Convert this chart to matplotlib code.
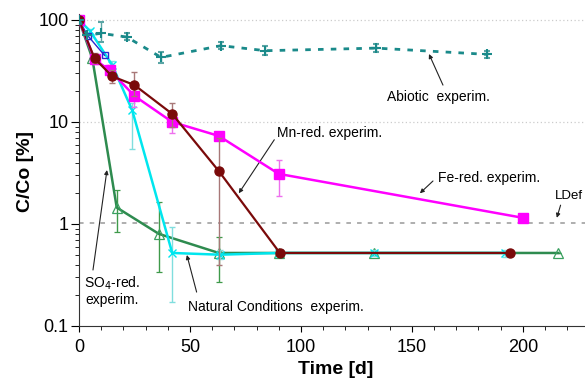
import matplotlib
matplotlib.use("Agg")
import matplotlib.pyplot as plt
import numpy as np

plt.rcParams['font.family'] = ['Liberation Sans', 'DejaVu Sans']

# ---------------- data ----------------
fe_t = [0, 7, 14, 25, 42, 63, 90, 200]
fe_v = [100, 41, 32, 18, 10, 7.3, 3.1, 1.15]
fe_lo = [0, 4, 4, 4, 2.2, 0.5, 1.2, 0]
fe_hi = [0, 5, 4, 5, 2.5, 0.5, 1.1, 0]

mn_t = [0, 7, 15, 25, 42, 63, 90.5, 194]
mn_v = [100, 42, 28, 23, 12, 3.3, 0.52, 0.52]
mn_lo = [0, 4, 4, 5, 3, 2.9, 0, 0]
mn_hi = [0, 5, 4, 8, 3.5, 3.7, 0, 0]

so4_t = [0, 6, 17, 36, 63, 90, 133, 216]
so4_v = [100, 42, 1.45, 0.8, 0.52, 0.52, 0.52, 0.52]
so4_lo = [0, 0, 0.62, 0.46, 0.25, 0.02, 0.02, 0]
so4_hi = [0, 0, 0.7, 0.84, 0.22, 0.02, 0.02, 0]

nat_t = [0, 5, 15, 24, 42, 63.5, 90, 133, 192]
nat_v = [100, 78, 36, 13, 0.52, 0.5, 0.52, 0.52, 0.52]
nat_lo = [0, 3, 3, 7.6, 0.35, 0.05, 0.03, 0.03, 0.04]
nat_hi = [0, 3, 4, 2.4, 0.41, 0.05, 0.03, 0.03, 0.04]

abio_t = [0, 3.6, 10, 21.6, 37, 64, 84, 134, 184]
abio_v = [100, 71, 74, 68, 43, 56, 50, 53, 46]
abio_lo = [0, 0, 13, 5, 5, 4, 5, 4, 4]
abio_hi = [0, 0, 21, 6, 6, 5, 5, 5, 4]

blue_t = [0, 4, 11.5]
blue_v = [100, 70, 45]

ldet = 1.03

# ---------------- figure ----------------
fig = plt.figure(figsize=(5.85, 3.79), dpi=100)
ax = fig.add_axes([79/585, 1-326/379, 1-79/585, (326-13.8)/379])

ax.set_yscale('log')
ax.set_xlim(0, 228)
ax.set_ylim(0.1, 115)

for y in [10, 100]:
    ax.axhline(y, color='#cccccc', lw=0.9, ls=(0, (1, 2)), zorder=0)
ax.axhline(ldet, color='#999999', lw=1.1, ls=(0, (3, 4)), zorder=1)

# SO4 (green)
ax.errorbar(so4_t, so4_v, yerr=[so4_lo, so4_hi], color='#2e8b4f', ecolor='#3f9a4a',
            lw=1.8, elinewidth=1.0, capsize=2.5, marker='^', ms=6.5, mfc='none',
            mec='#3aa060', mew=0.9, zorder=3)
# Natural (cyan)
ax.errorbar(nat_t, nat_v, yerr=[nat_lo, nat_hi], color='#00e6ee', ecolor='#80dede',
            lw=1.8, elinewidth=1.0, capsize=2.5, marker='x', ms=6, mew=1.0, zorder=4)
# blue early series
ax.plot(blue_t, blue_v, color='#2a2ad0', lw=1.0, marker='s', ms=4, mfc='none', zorder=5)
# Fe (magenta)
ax.errorbar(fe_t, fe_v, yerr=[fe_lo, fe_hi], color='#ff00ff', ecolor='#ee70ee',
            lw=1.8, elinewidth=1.0, capsize=2.5, marker='s', ms=6.5, zorder=5)
# Mn (dark red)
ax.errorbar(mn_t, mn_v, yerr=[mn_lo, mn_hi], color='#7a0a0a', ecolor='#a87878',
            lw=1.6, elinewidth=1.0, capsize=2.5, marker='o', ms=6.5, zorder=6)
# Abiotic (teal dashed)
ax.errorbar(abio_t, abio_v, yerr=[abio_lo, abio_hi], color='#1a8a8a', ecolor='#5aa5a5',
            lw=2.0, ls=(0, (2, 2.6)), elinewidth=1.0, capsize=2.5, marker='+', ms=6.5,
            mew=1.5, zorder=6)

# ---------------- axes styling ----------------
for s in ['top', 'right']:
    ax.spines[s].set_visible(False)
ax.spines['left'].set_color('#333333')
ax.spines['bottom'].set_color('#333333')

ax.set_xticks([0, 50, 100, 150, 200])
ax.set_xticks(np.arange(10, 228, 10), minor=True)
ax.set_yticks([0.1, 1, 10, 100])
ax.set_yticklabels(['0.1', '1', '10', '100'])
ax.tick_params(axis='x', which='major', length=4, direction='out', pad=5, labelsize=13)
ax.tick_params(axis='x', which='minor', length=3, direction='out')
ax.tick_params(axis='y', which='major', length=6, direction='out', pad=1.5, labelsize=13)
ax.tick_params(axis='y', which='minor', length=3, direction='out')

fig.text(25/585, 1-172/379, 'C/Co [%]', rotation=90, ha='center', va='center',
         fontsize=14, fontweight='bold')
fig.text(336/585, 1-370/379, 'Time [d]', ha='center', va='center',
         fontsize=14, fontweight='bold')

# ---------------- annotations ----------------
ap = dict(arrowstyle='-|>', lw=0.8, color='#222222', mutation_scale=6,
          shrinkA=0, shrinkB=0)
ax.annotate('', xy=(157.7, 46.4), xytext=(164, 23), arrowprops=ap)
ax.text(139, 17.6, 'Abiotic  experim.', fontsize=10, va='center', ha='left')

ax.annotate('', xy=(72, 2.0), xytext=(88, 6.7), arrowprops=ap)
ax.text(89, 7.8, 'Mn-red. experim.', fontsize=10, va='center', ha='left')

ax.annotate('', xy=(153.6, 2.0), xytext=(159.5, 2.64), arrowprops=ap)
ax.text(161.7, 2.8, 'Fe-red. experim.', fontsize=10, va='center', ha='left')

ax.annotate('', xy=(215.3, 1.15), xytext=(217, 1.53), arrowprops=ap)
ax.text(214.5, 1.88, 'LDef', fontsize=9.5, va='center', ha='left')

ax.annotate('', xy=(12.6, 3.38), xytext=(6.3, 0.354), arrowprops=ap)
ax.text(15, 0.22, 'SO$_4$-red.\nexperim.', fontsize=10, va='center', ha='center',
        multialignment='center', linespacing=1.1)

ax.annotate('', xy=(48.6, 0.497), xytext=(53, 0.215), arrowprops=ap)
ax.text(49, 0.153, 'Natural Conditions  experim.', fontsize=10, va='center', ha='left')

fig.savefig('out.png', dpi=100)
